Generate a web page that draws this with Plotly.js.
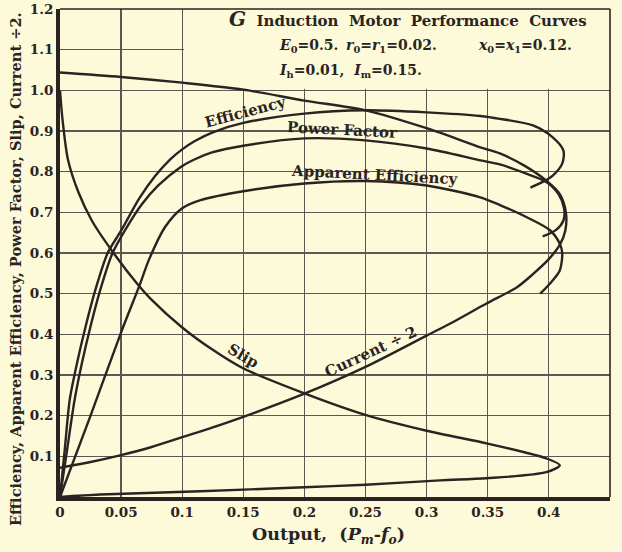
<!DOCTYPE html>
<html>
<head>
<meta charset="utf-8">
<script src="https://cdn.plot.ly/plotly-3.0.1.min.js"></script>
<style>
html,body{margin:0;padding:0;background:#fcfad9;}
#chart{width:622px;height:552px;}
</style>
</head>
<body>
<div id="chart"></div>
<script>
// ---- Data ----
const xTickVals = [0, 0.05, 0.1, 0.15, 0.2, 0.25, 0.3, 0.35, 0.4, 0.45];
const xTickText = ["0", "0.05", "0.1", "0.15", "0.2", "0.25", "0.3", "0.35", "0.4", "0.45"];
const yTickVals = [0.1, 0.2, 0.3, 0.4, 0.5, 0.6, 0.7, 0.8, 0.9, 1.0, 1.1, 1.2];
const yTickText = ["0.1", "0.2", "0.3", "0.4", "0.5", "0.6", "0.7", "0.8", "0.9", "1.0", "1.1", "1.2"];

const effX = [0, 0.004, 0.008, 0.014, 0.021, 0.029, 0.039, 0.05, 0.065, 0.078, 0.09, 0.1, 0.11, 0.125, 0.15, 0.2, 0.25, 0.3, 0.344, 0.36, 0.387, 0.403, 0.412, 0.411, 0.403, 0.395, 0.385];
const effY = [0, 0.12, 0.24, 0.33, 0.42, 0.51, 0.6, 0.655, 0.735, 0.79, 0.83, 0.855, 0.875, 0.897, 0.92, 0.943, 0.951, 0.946, 0.937, 0.93, 0.914, 0.885, 0.852, 0.82, 0.79, 0.775, 0.761];

const pfX = [0, 0.006, 0.012, 0.018, 0.025, 0.033, 0.043, 0.055, 0.067, 0.08, 0.098, 0.11, 0.125, 0.15, 0.2, 0.25, 0.3, 0.344, 0.36, 0.38, 0.398, 0.408, 0.4125, 0.412, 0.406, 0.395];
const pfY = [0, 0.12, 0.24, 0.33, 0.42, 0.51, 0.6, 0.665, 0.72, 0.765, 0.81, 0.83, 0.848, 0.864, 0.882, 0.877, 0.857, 0.828, 0.818, 0.797, 0.775, 0.745, 0.71, 0.68, 0.657, 0.641];

const appX = [0, 0.025, 0.05, 0.065, 0.073, 0.086, 0.1, 0.115, 0.15, 0.2, 0.25, 0.3, 0.344, 0.36, 0.382, 0.401, 0.409, 0.411, 0.409, 0.401, 0.393];
const appY = [0, 0.2, 0.405, 0.52, 0.585, 0.664, 0.71, 0.73, 0.752, 0.771, 0.777, 0.766, 0.737, 0.718, 0.688, 0.656, 0.623, 0.6, 0.557, 0.525, 0.5];

const slipX = [0, 0.002, 0.0065, 0.015, 0.026, 0.045, 0.063, 0.074, 0.1, 0.125, 0.149, 0.2, 0.25, 0.3, 0.349, 0.38, 0.398, 0.409, 0.398, 0.349, 0.311, 0.25, 0.2, 0.115, 0.033, 0];
const slipY = [1.0, 0.93, 0.83, 0.75, 0.68, 0.595, 0.525, 0.488, 0.417, 0.362, 0.318, 0.255, 0.202, 0.163, 0.132, 0.11, 0.095, 0.078, 0.061, 0.046, 0.041, 0.03, 0.024, 0.014, 0.006, 0];

const curX = [0, 0.05, 0.1, 0.15, 0.2, 0.25, 0.3, 0.344, 0.36, 0.38, 0.398, 0.409, 0.414, 0.4135, 0.409, 0.4, 0.387, 0.374, 0.349, 0.319, 0.3, 0.25, 0.2, 0.15, 0.125, 0.1, 0.075, 0.05, 0.025, 0];
const curY = [1.044, 1.033, 1.019, 1.002, 0.975, 0.951, 0.907, 0.86, 0.845, 0.815, 0.778, 0.745, 0.70, 0.655, 0.62, 0.585, 0.548, 0.516, 0.476, 0.426, 0.397, 0.32, 0.254, 0.197, 0.171, 0.147, 0.123, 0.103, 0.086, 0.072];

const curveLabels = ["Efficiency", "Power Factor", "Apparent Efficiency", "Slip", "Current ÷ 2"];
const labelX = [0.152, 0.231, 0.258, 0.15, 0.254];
const labelY = [0.946, 0.902, 0.791, 0.348, 0.357];
const labelAngle = [-15, 3, 3, 30, -25];

// ---- Styling ----
const INK = '#2a2322';
const GRID = '#5c5752';
const BG = '#fcfad9';
const SERIF = 'DejaVu Serif, Liberation Serif, serif';

function curve(x, y, name) {
  return {x: x, y: y, name: name, type: 'scatter', mode: 'lines',
          line: {color: INK, width: 2.4, shape: 'spline', smoothing: 0.8},
          hoverinfo: 'skip', showlegend: false};
}

const data = [
  curve(effX, effY, 'Efficiency'),
  curve(pfX, pfY, 'Power Factor'),
  curve(appX, appY, 'Apparent Efficiency'),
  curve(slipX, slipY, 'Slip'),
  curve(curX, curY, 'Current ÷ 2')
];

const annotations = curveLabels.map((t, i) => ({
  text: t, x: labelX[i], y: labelY[i], xref: 'x', yref: 'y',
  showarrow: false, textangle: labelAngle[i],
  font: {family: SERIF, size: 15, color: INK, weight: 'bold'}
}));

const hdrFont = {family: SERIF, size: 14, color: INK, weight: 'bold'};
function px2paperX(p) { return (p - 60) / 550; }
function px2paperY(p) { return (497 - p) / 488; }

annotations.push(
  {text: '<span style="font-size:20px"><i>G</i></span>  Induction  Motor  Performance  Curves', xref: 'paper', yref: 'paper',
   x: px2paperX(589), y: px2paperY(19), xanchor: 'right', yanchor: 'middle', showarrow: false,
   font: {family: SERIF, size: 15, color: INK, weight: 'bold'}},
  {text: '<i>E</i><sub>0</sub>=0.5.', xref: 'paper', yref: 'paper',
   x: px2paperX(277), y: px2paperY(46), xanchor: 'left', yanchor: 'middle', showarrow: false, font: hdrFont},
  {text: '<i>r</i><sub>0</sub>=<i>r</i><sub>1</sub>=0.02.', xref: 'paper', yref: 'paper',
   x: px2paperX(344), y: px2paperY(46), xanchor: 'left', yanchor: 'middle', showarrow: false, font: hdrFont},
  {text: '<i>x</i><sub>0</sub>=<i>x</i><sub>1</sub>=0.12.', xref: 'paper', yref: 'paper',
   x: px2paperX(476), y: px2paperY(46), xanchor: 'left', yanchor: 'middle', showarrow: false, font: hdrFont},
  {text: '<i>I</i><sub>h</sub>=0.01,  <i>I</i><sub>m</sub>=0.15.',
   xref: 'paper', yref: 'paper', x: px2paperX(277), y: px2paperY(71), xanchor: 'left', yanchor: 'middle', showarrow: false,
   font: hdrFont},
  {text: 'Efficiency, Apparent Efficiency, Power Factor, Slip, Current ÷2.',
   xref: 'paper', yref: 'paper', x: px2paperX(15), y: px2paperY(269), xanchor: 'center', yanchor: 'middle',
   textangle: -90, showarrow: false,
   font: {family: SERIF, size: 14.6, color: INK, weight: 'bold'}},
  {text: 'Output,  (<i>P<sub>m</sub></i>-<i>f<sub>o</sub></i>)',
   xref: 'paper', yref: 'paper', x: px2paperX(328), y: px2paperY(535), xanchor: 'center', yanchor: 'middle', showarrow: false,
   font: {family: SERIF, size: 17.5, color: INK, weight: 'bold'}}
);

const layout = {
  width: 622, height: 552,
  margin: {l: 60, r: 12, t: 9, b: 55},
  paper_bgcolor: BG, plot_bgcolor: BG,
  showlegend: false,
  xaxis: {range: [0, 0.4501], tickvals: xTickVals, ticktext: xTickText,
          showgrid: true, gridcolor: GRID, gridwidth: 1.4, zeroline: false,
          showline: true, linecolor: INK, linewidth: 4, mirror: false, ticks: '',
          tickfont: {family: SERIF, size: 13.5, color: INK, weight: 'bold'}, fixedrange: true},
  yaxis: {range: [0, 1.2002], tickvals: yTickVals, ticktext: yTickText,
          showgrid: true, gridcolor: GRID, gridwidth: 1.4, zeroline: false,
          showline: true, linecolor: INK, linewidth: 4, mirror: false, ticks: '',
          tickfont: {family: SERIF, size: 13.5, color: INK, weight: 'bold'}, fixedrange: true},
  shapes: [
    // blank panel behind the title block (covers grid only)
    {type: 'rect', xref: 'x', yref: 'y', x0: 0.1015, x1: 0.4501, y0: 1.004, y1: 1.2002,
     fillcolor: BG, line: {width: 0}, layer: 'between'},
    // thin top and right frame
    {type: 'line', xref: 'paper', yref: 'paper', x0: 0, x1: 1, y0: 1, y1: 1, line: {color: INK, width: 1.6}},
    {type: 'line', xref: 'paper', yref: 'paper', x0: 1, x1: 1, y0: 0, y1: 1, line: {color: INK, width: 1.6}}
  ],
  annotations: annotations
};

Plotly.newPlot('chart', data, layout, {staticPlot: true, displayModeBar: false});
</script>
</body>
</html>
